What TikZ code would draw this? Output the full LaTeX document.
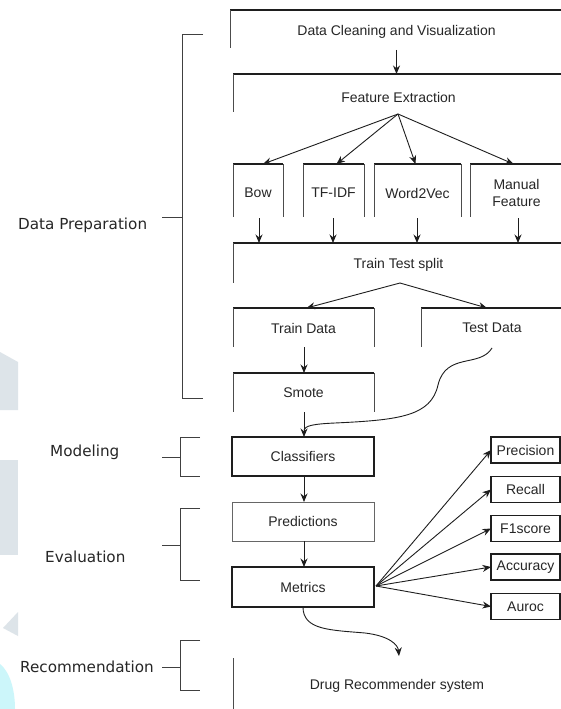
\documentclass[tikz,border=0pt]{standalone}
\usepackage{fontspec}
\setmainfont{Liberation Sans}
\newfontfamily\labfont{DejaVu Sans}
\usetikzlibrary{arrows.meta}
\definecolor{wmgrey}{HTML}{DDE4E9}
\definecolor{wmcyan}{HTML}{CCF6FA}
\definecolor{inkc}{HTML}{1E1E1E}
\begin{document}
\begin{tikzpicture}[x=1pt,y=-1pt,
  txt/.style={inner sep=0pt, outer sep=0pt, font=\fontsize{14}{16.5}\selectfont, text=black!85, align=center},
  topl/.style={draw=inkc, line width=1.7pt},
  side/.style={draw=black!70, line width=0.9pt},
  fullbox/.style={txt, draw=inkc, line width=1.4pt},
  lightbox/.style={txt, draw=black!60, line width=1pt},
  metbox/.style={txt, draw=inkc, line width=1.1pt, minimum width=69, minimum height=26},
  arr/.style={draw=inkc, line width=0.9pt, -{Stealth[length=8.5pt,width=7pt]}},
  brk/.style={draw=black!75, line width=1pt},
  lab/.style={inner sep=0pt, font=\labfont\fontsize{15.2}{18}\selectfont, text=black!85, anchor=west}
]
\useasboundingbox (0,0) rectangle (561,709);
\fill[white] (0,0) rectangle (561,709);
% watermark shapes
\fill[wmgrey] (0,352) -- (18,362) -- (18,410) -- (0,410) -- cycle;
\fill[wmgrey] (0,460) rectangle (18,555);
\fill[wmgrey] (3,628) -- (18,612) -- (18,636) -- cycle;
\fill[wmcyan] (0,664) .. controls (10,672) and (15,690) .. (15,709) -- (0,709) -- cycle;

% top part boxes
\node[txt, minimum width=333, minimum height=44] (dc) at (396.5,32) {Data Cleaning and Visualization};
\draw[topl] (dc.north west) -- (dc.north east);
\draw[side] (dc.north west) -- ++(0,38);

\node[txt, minimum width=331, minimum height=46] (fe) at (398.5,97) {Feature Extraction};
\draw[topl] (fe.north west) -- (fe.north east);
\draw[side] (fe.north west) -- ++(0,38);

\node[txt, minimum width=50, minimum height=58] (bow) at (258,193) {Bow};
\node[txt, minimum width=61, minimum height=58] (tfidf) at (333.5,193) {TF-IDF};
\node[txt, minimum width=87, minimum height=58] (w2v) at (417.5,193) {Word2Vec};
\node[txt, minimum width=93, minimum height=58] (man) at (516.5,193) {Manual\\Feature};
\foreach \b in {bow,tfidf,w2v,man}{
  \draw[topl] (\b.north west) -- (\b.north east);
  \draw[side] (\b.north west) -- ++(0,53);
}
\foreach \b in {bow,tfidf,w2v}{
  \draw[side] (\b.north east) -- ++(0,53);
}

\node[txt, minimum width=331, minimum height=44] (tts) at (398.5,265) {Train Test split};
\draw[topl] (tts.north west) -- (tts.north east);
\draw[side] (tts.north west) -- ++(0,40);

\node[txt, minimum width=141, minimum height=40] (trd) at (303.5,328) {Train Data};
\draw[topl] (trd.north west) -- (trd.north east);
\draw[side] (trd.north west) -- ++(0,39);
\draw[side] (trd.north east) -- ++(0,39);

\node[txt, minimum width=142, minimum height=40] (ted) at (492,328) {Test Data};
\draw[topl] (ted.north west) -- (ted.north east);
\draw[side] (ted.north west) -- ++(0,39);

\node[txt, minimum width=141, minimum height=40] (sm) at (303.5,393) {Smote};
\draw[topl] (sm.north west) -- (sm.north east);
\draw[side] (sm.north west) -- ++(0,39);
\draw[side] (sm.north east) -- ++(0,39);

% lower boxes
\node[fullbox, minimum width=142, minimum height=39] (cl) at (303,456.5) {Classifiers};
\node[lightbox, minimum width=142, minimum height=39] (pr) at (303,521.5) {Predictions};
\node[fullbox, line width=1.2pt, minimum width=142, minimum height=40] (me) at (303,587) {Metrics};

\node[metbox] (prec) at (525.5,450) {Precision};
\node[metbox] (rec) at (525.5,489.5) {Recall};
\node[metbox] (f1) at (525.5,528.5) {F1score};
\node[metbox] (acc) at (525.5,567) {Accuracy};
\node[metbox] (auc) at (525.5,606.5) {Auroc};

\node[txt, minimum width=328, minimum height=44] (drs) at (397,686) {Drug Recommender system};
\draw[side] (drs.west |- 0,658) -- (drs.west |- 0,709);

% arrows
\draw[arr] (dc.center |- 0,50) -- (dc.center |- fe.north);
\coordinate (feo) at (398,114);
\draw[arr] (feo) -- ([xshift=5pt]bow.north);
\draw[arr] (feo) -- ([xshift=3pt]tfidf.north);
\draw[arr] (feo) -- ([xshift=-2pt]w2v.north);
\draw[arr] (feo) -- ([xshift=-3pt]man.north);

\draw[arr] (259,218) -- (259,243);
\draw[arr] (333,218) -- (333,243);
\draw[arr] (417,218) -- (417,243);
\draw[arr] (518,218) -- (518,243);

\coordinate (tto) at (400,283);
\draw[arr] (tto) -- ([xshift=3pt]trd.north);
\draw[arr] (tto) -- ([xshift=-5pt]ted.north);

\draw[arr] (304,347) -- (sm.north -| 304,0);
\draw[arr] (304,412) -- (cl.north -| 304,0);
\draw[draw=inkc, line width=0.9pt] (492,348) .. controls (480,368) and (446,352) .. (438,385)
   .. controls (431,416) and (400,420) .. (335,423) .. controls (312,424) and (305,426) .. (304,430);

\draw[arr] (cl.south -| 304,0) -- (pr.north -| 304,0);
\draw[arr] (pr.south -| 304,0) -- (me.north -| 304,0);

\coordinate (meo) at (376,586);
\foreach \t in {prec,rec,f1,acc,auc}{
  \draw[arr] (meo) -- (\t.west);
}
\draw[arr] (me.south -| 303,0) .. controls (303,630) and (330,630) .. (365,633)
   .. controls (390,636) and (398,645) .. (399,656);

% brackets and labels
\draw[brk] (203,35) -- (182,35) -- (182,398) -- (203,398);
\draw[brk] (162,217) -- (182,217);
\node[lab] (ldp) at (18,225) {Data Preparation};

\draw[brk] (200,437) -- (180,437) -- (180,476) -- (200,476);
\draw[brk] (162,457) -- (180,457);
\node[lab] (lmo) at (50,452) {Modeling};

\draw[brk] (200,508) -- (180,508) -- (180,580) -- (200,580);
\draw[brk] (162,545) -- (180,545);
\node[lab] (lev) at (45,557) {Evaluation};

\draw[brk] (200,640) -- (180,640) -- (180,690) -- (200,690);
\draw[brk] (162,667) -- (180,667);
\node[lab] (lre) at (20,667) {Recommendation};
\end{tikzpicture}
\end{document}
